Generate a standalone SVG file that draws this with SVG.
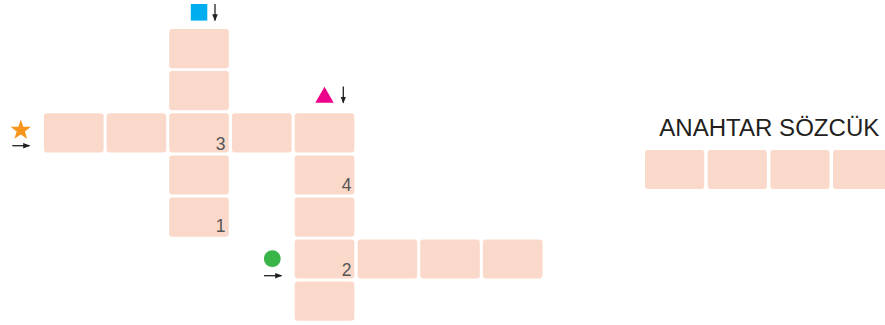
<svg xmlns="http://www.w3.org/2000/svg" width="885" height="325" viewBox="0 0 885 325">
<style>
.c{fill:#FBD9CA}
.n{font-family:"Liberation Sans",Arial,sans-serif;font-size:17.5px;fill:#555;text-anchor:end}
.t{font-family:"Liberation Sans",Arial,sans-serif;font-size:23px;fill:#231F20}
.a{stroke:#231F20;stroke-width:1.3;fill:none}
</style>
<defs>
<marker id="ah" viewBox="0 0 10 10" refX="9" refY="5" markerWidth="7" markerHeight="7" markerUnits="userSpaceOnUse" orient="auto">
<path d="M0,1 L10,5 L0,9 Z" fill="#231F20"/>
</marker>
</defs>
<rect width="885" height="325" fill="#fff"/>
<g id="grid">
<rect class="c" x="169.2" y="29" width="59.6" height="39.2" rx="3"/>
<rect class="c" x="169.2" y="71" width="59.6" height="39.2" rx="3"/>
<rect class="c" x="44" y="113.2" width="59.6" height="39.2" rx="3"/>
<rect class="c" x="106.6" y="113.2" width="59.6" height="39.2" rx="3"/>
<rect class="c" x="169.2" y="113.2" width="59.6" height="39.2" rx="3"/>
<rect class="c" x="232" y="113.2" width="59.6" height="39.2" rx="3"/>
<rect class="c" x="294.7" y="113.2" width="59.6" height="39.2" rx="3"/>
<rect class="c" x="169.2" y="155.4" width="59.6" height="39.2" rx="3"/>
<rect class="c" x="169.2" y="197.6" width="59.6" height="39.2" rx="3"/>
<rect class="c" x="294.7" y="155.4" width="59.6" height="39.2" rx="3"/>
<rect class="c" x="294.7" y="197.6" width="59.6" height="39.2" rx="3"/>
<rect class="c" x="294.7" y="239.4" width="59.6" height="39.2" rx="3"/>
<rect class="c" x="357.6" y="239.4" width="59.6" height="39.2" rx="3"/>
<rect class="c" x="420.2" y="239.4" width="59.6" height="39.2" rx="3"/>
<rect class="c" x="482.9" y="239.4" width="59.6" height="39.2" rx="3"/>
<rect class="c" x="294.7" y="281.6" width="59.6" height="39.2" rx="3"/>
</g>
<g id="numbers">
<text class="n" x="225.5" y="150">3</text>
<text class="n" x="225.5" y="231.7">1</text>
<text class="n" x="351.5" y="190.7">4</text>
<text class="n" x="351.5" y="276">2</text>
</g>
<g id="clue-square">
<rect x="190.8" y="4" width="16.5" height="16.6" fill="#00AEEF"/>
</g>
<g id="clue-triangle">
<path d="M315.3,102.8 L324.5,86.7 L333.7,102.8 Z" fill="#EC008C"/>
</g>
<g id="clue-star">
<path fill="#F7941D" d="M20.8,119.5 L23.3,126.7 L31,126.8 L24.9,131.4 L27.2,138.8 L20.8,134.4 L14.4,138.8 L16.7,131.4 L10.6,126.8 L18.3,126.7 Z"/>
</g>
<g id="clue-circle">
<circle cx="272.3" cy="258.7" r="8.4" fill="#39B54A"/>
</g>
<g id="connectors">
<line class="a" x1="215" y1="4" x2="215" y2="20.5" marker-end="url(#ah)"/>
<line class="a" x1="343.3" y1="86.5" x2="343.3" y2="102.8" marker-end="url(#ah)"/>
<line class="a" x1="12.3" y1="145.7" x2="29.5" y2="145.7" marker-end="url(#ah)"/>
<line class="a" x1="264" y1="275.7" x2="281.5" y2="275.7" marker-end="url(#ah)"/>
</g>
<g id="keyword">
<text class="t" x="659.3" y="136" textLength="220" lengthAdjust="spacingAndGlyphs">ANAHTAR SÖZCÜK</text>
<rect class="c" x="645" y="150" width="59.2" height="39" rx="3"/>
<rect class="c" x="707.7" y="150" width="59.2" height="39" rx="3"/>
<rect class="c" x="770.3" y="150" width="59.2" height="39" rx="3"/>
<rect class="c" x="833" y="150" width="59.2" height="39" rx="3"/>
</g>
</svg>
